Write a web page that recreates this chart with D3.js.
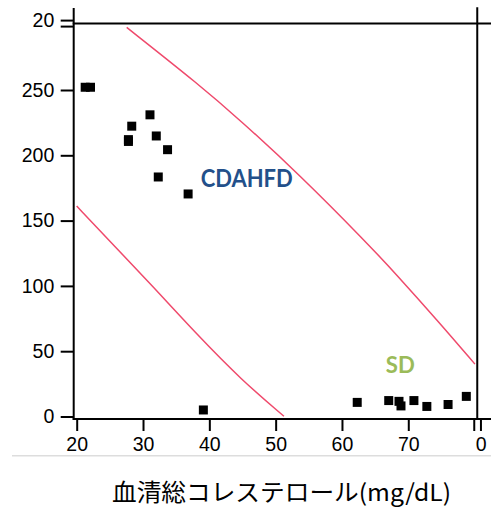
<!DOCTYPE html>
<html>
<head>
<meta charset="utf-8">
<script src="https://cdn.jsdelivr.net/npm/d3@7"></script>
<style>
  html, body { margin: 0; padding: 0; background: #fff; }
  svg { display: block; }
</style>
</head>
<body>
<svg id="chart" width="491" height="512"></svg>
<script>
// Total serum cholesterol vs. the y measure, two diet groups
const cdahfdX = [21.28, 22.08, 31.05, 28.3, 27.8, 27.8, 32.0, 33.7, 32.3, 36.8, 39.1];
const cdahfdY = [252.1, 252.1, 231.0, 222.3, 212.0, 210.6, 214.8, 204.3, 183.4, 170.4, 5.0];

const sdX = [62.3, 67.05, 68.6, 68.9, 70.85, 72.8, 76.0, 78.75];
const sdY = [10.8, 12.2, 11.6, 8.1, 12.2, 7.7, 9.2, 15.4];

// Prediction band edges
const upperX = [27.54, 38.59, 44.62, 53.67, 63.72, 68.24, 74.77, 80.05];
const upperY = [297.9, 253.5, 227.0, 184.8, 133.2, 108.6, 71.4, 40.1];
const lowerX = [20, 25, 31.55, 38, 44.88, 51.25];
const lowerY = [161.1, 134.3, 99.2, 63.5, 27.8, 0.2];

const xTicks = [20, 30, 40, 50, 60, 70];
const yTicks = [0, 50, 100, 150, 200, 250];
const xBreakLabel = "0";
const yBreakLabel = "20";
const xTitle = "血清総コレステロール(mg/dL)";

const svg = d3.select("#chart");

const x = d3.scaleLinear().domain([20, 80]).range([76.7, 474.6]);
const y = d3.scaleLinear().domain([0, 250]).range([416.5, 90]);

const axisX = 73.7;     // left axis line
const axisY = 419;      // bottom axis line
const tickFont = "'Liberation Sans', Arial, sans-serif";

// bottom divider under the tick labels
svg.append("line")
  .attr("x1", 12).attr("x2", 491).attr("y1", 455.7).attr("y2", 455.7)
  .attr("stroke", "#dddddd").attr("stroke-width", 1.5);

// Axes
const gx = svg.append("g").attr("transform", `translate(0,${axisY})`)
  .call(d3.axisBottom(x).tickValues(xTicks).tickSize(12).tickPadding(6).tickFormat(d3.format("d")));
const gy = svg.append("g").attr("transform", `translate(${axisX},0)`)
  .call(d3.axisLeft(y).tickValues(yTicks).tickSize(13).tickPadding(6.4).tickFormat(d3.format("d")));

[gx, gy].forEach(g => {
  g.select(".domain").remove();
  g.selectAll(".tick line").attr("stroke", "#000").attr("stroke-width", 2);
  g.selectAll(".tick text").attr("fill", "#000")
    .style("font-family", tickFont).style("font-size", "19.5px");
});

// axis lines
svg.append("line").attr("x1", axisX).attr("x2", axisX).attr("y1", 8).attr("y2", axisY + 1)
  .attr("stroke", "#000").attr("stroke-width", 2);
svg.append("line").attr("x1", axisX - 1).attr("x2", 491).attr("y1", axisY).attr("y2", axisY)
  .attr("stroke", "#000").attr("stroke-width", 2);

// Axis breaks: y near 300, x near 80
const yBreak = 301;
const xBreak = 80.4;
const yb = y(yBreak), xb = x(xBreak);

[yb - 2.8, yb + 3.2].forEach(v => {
  svg.append("line").attr("x1", axisX - 13).attr("x2", axisX).attr("y1", v).attr("y2", v)
    .attr("stroke", "#000").attr("stroke-width", 2);
});
svg.append("text").attr("x", axisX - 19.4).attr("y", yb - 2.8).attr("dy", "0.32em")
  .attr("text-anchor", "end").style("font-family", tickFont).style("font-size", "19.5px")
  .text(yBreakLabel);
svg.append("line").attr("x1", axisX - 1).attr("x2", 491).attr("y1", yb).attr("y2", yb)
  .attr("stroke", "#000").attr("stroke-width", 2);

[xb - 3, xb + 3.7].forEach(v => {
  svg.append("line").attr("x1", v).attr("x2", v).attr("y1", axisY).attr("y2", axisY + 12)
    .attr("stroke", "#000").attr("stroke-width", 2);
});
svg.append("text").attr("x", xb + 4).attr("y", axisY + 18).attr("dy", "0.71em")
  .attr("text-anchor", "middle").style("font-family", tickFont).style("font-size", "19.5px")
  .text(xBreakLabel);
svg.append("line").attr("x1", xb).attr("x2", xb).attr("y1", 7.3).attr("y2", axisY)
  .attr("stroke", "#000").attr("stroke-width", 2);

// Band curves
const line = d3.line().x(d => x(d[0])).y(d => y(d[1])).curve(d3.curveBasis);
const upper = upperX.map((v, i) => [v, upperY[i]]);
const lower = lowerX.map((v, i) => [v, lowerY[i]]);
[upper, lower].forEach(pts => {
  svg.append("path").attr("d", line(pts)).attr("fill", "none")
    .attr("stroke", "#ef4a6c").attr("stroke-width", 1.5);
});

// Points
const pts = cdahfdX.map((v, i) => [v, cdahfdY[i]])
  .concat(sdX.map((v, i) => [v, sdY[i]]));
const sym = d3.symbol().type(d3.symbolSquare).size(81);
svg.append("g").selectAll("path").data(pts).join("path")
  .attr("transform", d => `translate(${x(d[0])},${y(d[1])})`)
  .attr("d", sym).attr("fill", "#000");

// Group labels
svg.append("text").attr("x", x(38.7)).attr("y", y(175.5))
  .attr("textLength", 92).attr("lengthAdjust", "spacingAndGlyphs")
  .style("font-family", "Lato, 'Open Sans', sans-serif").style("font-weight", "bold")
  .style("font-size", "24px").attr("fill", "#23508a").text("CDAHFD");
svg.append("text").attr("x", x(66.6)).attr("y", y(33.0))
  .attr("textLength", 29).attr("lengthAdjust", "spacingAndGlyphs")
  .style("font-family", "Lato, 'Open Sans', sans-serif").style("font-weight", "bold")
  .style("font-size", "23px").attr("fill", "#9bbb59").text("SD");

// Axis title
svg.append("text").attr("x", 112).attr("y", 501)
  .attr("textLength", 339).attr("lengthAdjust", "spacingAndGlyphs")
  .style("font-family", "'Noto Sans CJK JP', sans-serif").style("font-size", "23.5px")
  .attr("fill", "#000").text(xTitle);
</script>
</body>
</html>
